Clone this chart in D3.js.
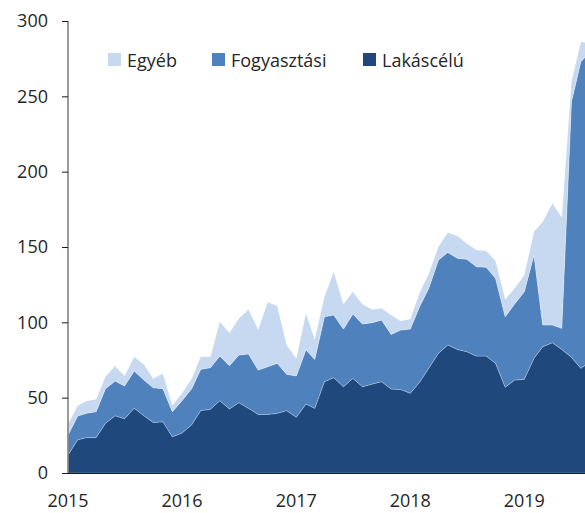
<!DOCTYPE html>
<html>
<head>
<meta charset="utf-8">
<script src="https://cdn.jsdelivr.net/npm/d3@7"></script>
<style>
  body { margin: 0; background: #fff; }
  text { font-family: "Open Sans", "Noto Sans", sans-serif; fill: #262626; }
</style>
</head>
<body>
<div id="chart"></div>
<script>
// series, monthly from 2015-01
let lakascelu = [12, 22, 23.5, 23.5, 33, 38, 36, 43, 38, 33.5, 34, 24,
    26.5, 32, 41.4, 42.3, 48, 42.5, 46.7, 42.9, 38.9, 38.9, 39.6, 41.4,
    37, 45.8, 42.9, 60.6, 63.3, 57.3, 62.8, 57.3, 59, 60.6, 55.7, 55.5,
    52.9, 60.6, 69.5, 79.4, 85, 82, 80.5, 77.6, 77.6, 72.8, 56.9, 61.7,
    62.2, 76.1, 83.8, 86.5, 82, 76.8, 69.5, 74];
let fogyasztasi = [13, 15.8, 16.1, 17.2, 23, 23, 21.7, 24.7, 23.7, 23.1, 22, 16.7,
    21.5, 24, 27.4, 27.6, 29.6, 28.7, 31.6, 36.1, 29.4, 31.6, 33.2, 24.1,
    27.4, 36, 32.5, 43.1, 41.5, 38.2, 42.7, 41.6, 40.8, 40.9, 36.3, 39.4,
    42.6, 50.4, 53, 61.9, 61.4, 60.5, 61.3, 59.3, 58.9, 56.4, 46.8, 50.4,
    58.1, 68.6, 14.4, 11.7, 14, 169.6, 203.4, 206];
let egyeb = [7.5, 6.9, 8.2, 8.3, 8, 10, 6.7, 9.5, 10.3, 6.2, 10, 4.3,
    5, 6.8, 8.4, 7.3, 22.8, 21.9, 24.3, 29.6, 27, 42.8, 38.2, 19.5,
    11.7, 24.4, 13.3, 13.3, 28.8, 16.5, 14.8, 13.1, 8.8, 7.8, 12.8, 6,
    6.7, 9.3, 9.8, 8.9, 13.3, 14.8, 10.6, 11.1, 11, 11.7, 11.6, 10.5,
    11.1, 15.4, 68.6, 80.8, 73.7, 13.3, 13.3, 5];

let seriesNames = ["Egyéb", "Fogyasztási", "Lakáscélú"];
let seriesColors = ["#c6d9f0", "#4f81bd", "#1f497d"];
let yTicks = [0, 50, 100, 150, 200, 250, 300];
let yearLabels = ["2015", "2016", "2017", "2018", "2019"];

let width = 585, height = 513;
let margin = {left: 68, top: 21, bottom: 40};

let svg = d3.select("#chart")
    .append("svg")
    .attr("width", width)
    .attr("height", height);

// build table for d3.stack
let months = lakascelu.map((d, i) => new Date(2015, i, 1));
let table = months.map((m, i) => ({
    date: m,
    "Lakáscélú": lakascelu[i],
    "Fogyasztási": fogyasztasi[i],
    "Egyéb": egyeb[i]
}));

let x = d3.scaleTime()
    .domain([new Date(2015, 0, 1), new Date(2019, 7, 1)])
    .range([margin.left, margin.left + 55 * 9.5]);

let y = d3.scaleLinear()
    .domain([0, 300])
    .range([height - margin.bottom, margin.top]);

let stacked = d3.stack()
    .keys(["Lakáscélú", "Fogyasztási", "Egyéb"])(table);

let color = d3.scaleOrdinal().domain(seriesNames).range(seriesColors);

let area = d3.area()
    .x(d => x(d.data.date))
    .y0(d => y(d[0]))
    .y1(d => y(d[1]));

svg.append("g")
    .selectAll("path")
    .data(stacked)
    .enter().append("path")
    .attr("d", area)
    .attr("fill", d => color(d.key))
    .attr("stroke", "#ffffff")
    .attr("stroke-opacity", 0.35)
    .attr("stroke-width", 0.7);

// x axis line
svg.append("line")
    .attr("x1", margin.left)
    .attr("x2", width)
    .attr("y1", y(0) + 0.5)
    .attr("y2", y(0) + 0.5)
    .attr("stroke", "#1a1a1a")
    .attr("stroke-width", 1.2);

// year labels
svg.append("g")
    .selectAll("text")
    .data(yearLabels)
    .enter().append("text")
    .attr("x", d => x(new Date(+d, 0, 1)))
    .attr("y", height - 6)
    .attr("text-anchor", "middle")
    .style("font-size", "18px")
    .text(d => d);

// y axis
let yAxis = svg.append("g")
    .attr("transform", `translate(${margin.left},0)`)
    .call(d3.axisLeft(y).tickValues(yTicks).tickSize(6).tickPadding(14));
yAxis.select(".domain")
    .attr("d", `M0,${y(300)}V${y(0)}`)
    .attr("stroke", "#808080")
    .attr("stroke-width", 1.6);
yAxis.selectAll(".tick line").attr("stroke", "#1a1a1a");
yAxis.selectAll(".tick text")
    .style("font-size", "18px")
    .style("font-family", "'Open Sans', 'Noto Sans', sans-serif")
    .attr("fill", "#262626");

// legend
let legendX = [108, 212, 363];
let legend = svg.append("g")
    .selectAll("g")
    .data(seriesNames)
    .enter().append("g")
    .attr("transform", (d, i) => `translate(${legendX[i]},53)`);

legend.append("rect")
    .attr("width", 13)
    .attr("height", 13)
    .attr("fill", d => color(d));

legend.append("text")
    .attr("x", 19)
    .attr("y", 14)
    .style("font-size", "18px")
    .text(d => d);
</script>
</body>
</html>
